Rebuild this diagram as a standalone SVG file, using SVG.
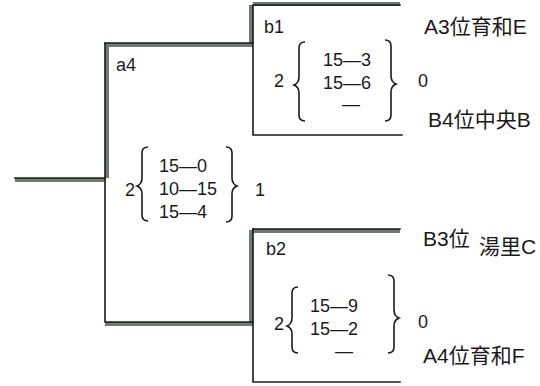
<svg xmlns="http://www.w3.org/2000/svg" width="540" height="386" viewBox="0 0 540 386">
<style>
.bg{fill:#ffffff}
.thin{stroke:#1a1a1a;stroke-width:1.6;fill:none;stroke-linecap:square}
.band{stroke:#6f7a72;stroke-width:4;fill:none;stroke-linecap:butt}
.t{font-family:"Liberation Sans","Noto Sans CJK JP",sans-serif;font-size:18px;fill:#1a1a1a}
.l{font-family:"Liberation Sans","Noto Sans CJK JP",sans-serif;font-size:21px;fill:#1a1a1a}
.s{font-family:"Liberation Sans","Noto Sans CJK JP",sans-serif;font-size:18px;fill:#1a1a1a}
.br{stroke:#1a1a1a;stroke-width:1.6;fill:none}
</style>
<rect class="bg" x="0" y="0" width="540" height="386"/>
<g id="connectors">
<path class="band" d="M15,180 H105"/>
<path class="band" d="M107,44 V178"/>
<path class="band" d="M105,45 H253"/>
<path class="band" d="M251,5 V44"/>
<path class="band" d="M253,4 H400"/>
<path class="band" d="M105,324 H253"/>
<path class="band" d="M251,230 V322"/>
<path class="band" d="M253,231 H400"/>
<path class="thin" d="M15,178 H105"/>
<path class="thin" d="M105,43 V322 H253"/>
<path class="thin" d="M105,43 H253 V5 H400"/>
<path class="thin" d="M253,43 V135 H402"/>
<path class="thin" d="M253,229 H400"/>
<path class="thin" d="M253,229 V382 H400"/>
</g>
<g id="a4">
<text class="t" x="116" y="71">a4</text>
<text class="t" x="125" y="196">2</text>
<path class="br" d="M148,147 Q142,147 142,153 V178 Q142,184 137,186 Q142,188 142,194 V215 Q142,221 148,221"/>
<text class="s" x="159" y="172">15—0</text>
<text class="s" x="159" y="195">10—15</text>
<text class="s" x="159" y="218">15—4</text>
<path class="br" d="M226,147 Q232,147 232,153 V178 Q232,184 237,186 Q232,188 232,194 V216 Q232,222 226,222"/>
<text class="t" x="255" y="196">1</text>
</g>
<g id="b1">
<text class="t" x="264" y="33">b1</text>
<text class="t" x="274" y="87">2</text>
<path class="br" d="M305,42 Q299,42 299,48 V77 Q299,83 294,85 Q299,87 299,93 V115 Q299,121 305,121"/>
<text class="s" x="323" y="66">15—3</text>
<text class="s" x="323" y="89">15—6</text>
<text class="s" x="342" y="110">—</text>
<path class="br" d="M385,40 Q391,40 391,46 V76 Q391,82 396,84 Q391,86 391,92 V115 Q391,121 385,121"/>
<text class="t" x="418" y="87">0</text>
<text class="l" x="424" y="34">A3位育和E</text>
<text class="l" x="428" y="127">B4位中央B</text>
</g>
<g id="b2">
<text class="t" x="266" y="255">b2</text>
<text class="t" x="274" y="330">2</text>
<path class="br" d="M298,287 Q292,287 292,293 V318 Q292,324 287,326 Q292,328 292,334 V347 Q292,353 298,353"/>
<text class="s" x="310" y="312">15—9</text>
<text class="s" x="310" y="335">15—2</text>
<text class="s" x="335" y="357">—</text>
<path class="br" d="M388,275 Q394,275 394,281 V310 Q394,316 399,318 Q394,320 394,326 V347 Q394,353 388,353"/>
<text class="t" x="418" y="328">0</text>
<text class="l" x="423" y="246">B3位</text>
<text class="l" x="479" y="254">湯里C</text>
<text class="l" x="423" y="363">A4位育和F</text>
</g>
</svg>
